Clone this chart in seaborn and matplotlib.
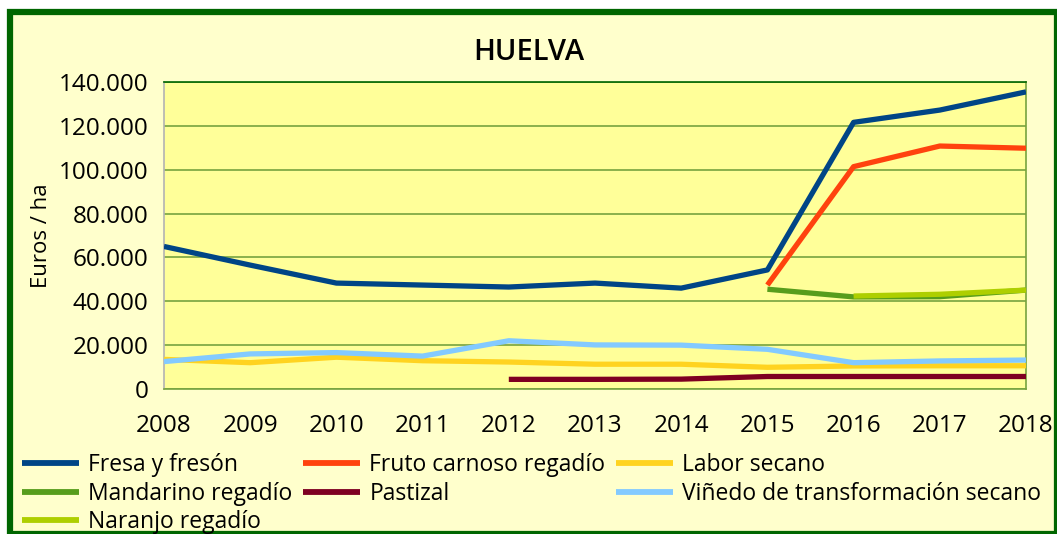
import numpy as np
import pandas as pd
import matplotlib
matplotlib.use("Agg")
import matplotlib.pyplot as plt
from matplotlib.patches import Rectangle
from matplotlib.lines import Line2D
import matplotlib.ticker as mticker
import seaborn as sns

years = [2008, 2009, 2010, 2011, 2012, 2013, 2014, 2015, 2016, 2017, 2018]
nan = np.nan
fresa = [65000, 56500, 48300, 47400, 46500, 48300, 46000, 54300, 121600, 127200, 135500]
fruto = [nan, nan, nan, nan, nan, nan, nan, 47400, 101400, 110800, 109800]
labor = [13500, 12000, 14500, 12900, 12300, 11300, 11300, 9900, 10500, 10600, 10600]
mandarino = [nan, nan, nan, nan, nan, nan, nan, 45500, 42000, 42100, 45100]
pastizal = [nan, nan, nan, nan, 4400, 4400, 4500, 5700, 5700, 5700, 5700]
vinedo = [12500, 16000, 16600, 15000, 22000, 20100, 20000, 18100, 12000, 12800, 13200]
naranjo = [nan, nan, nan, nan, nan, nan, nan, nan, 42400, 43200, 45100]

series_names = ["Fresa y fresón", "Fruto carnoso regadío", "Labor secano",
                "Mandarino regadío", "Pastizal", "Viñedo de transformación secano",
                "Naranjo regadío"]
series_values = [fresa, fruto, labor, mandarino, pastizal, vinedo, naranjo]
colors = ["#004586", "#FF420E", "#FFD320", "#579D1C", "#7E0021", "#83CAFF", "#AECF00"]

sns.set_theme(style="white")
plt.rcParams["font.family"] = ["Open Sans", "DejaVu Sans"]
plt.rcParams["text.color"] = "black"

fig = plt.figure(figsize=(10.57, 5.34), dpi=100)
fig.patch.set_facecolor("white")
bg = Rectangle((10 / 1057, 0), 1 - 10 / 1057, 1 - 12 / 534,
               transform=fig.transFigure, facecolor="#FFFFCC",
               edgecolor="#006600", linewidth=4.5, zorder=-10)
fig.patches.append(bg)

ax = fig.add_axes([164 / 1057, 1 - 389 / 534, (1026 - 164) / 1057, (389 - 82) / 534])
ax.set_zorder(5)
ax.set_facecolor("#FFFF99")

rows = []
for name, vals in zip(series_names, series_values):
    for y, v in zip(years, vals):
        rows.append({"year": y, "value": v, "serie": name})
df = pd.DataFrame(rows).dropna()

for name, col in zip(series_names, colors):
    sub = df[df["serie"] == name]
    sns.lineplot(data=sub, x="year", y="value", ax=ax, color=col, linewidth=3.8,
                 legend=False, solid_capstyle="butt", zorder=3)

ax.set_xlim(2008, 2018)
ax.set_ylim(0, 140000)
ax.set_xticks(years)
ax.set_yticks(np.arange(0, 140001, 20000))
ax.yaxis.set_major_formatter(mticker.FuncFormatter(lambda v, p: f"{int(v):,}".replace(",", ".")))
ax.grid(axis="y", color="#77A33F", linewidth=1.2, zorder=1)
ax.grid(axis="x", visible=False)
ax.tick_params(axis="both", which="major", labelsize=17.5, colors="#B3B3B3",
               labelcolor="black", length=8, width=1.2, direction="out")
ax.tick_params(axis="x", pad=10)
ax.tick_params(axis="y", pad=3)
ax.spines["top"].set_color("#006600")
ax.spines["right"].set_color("#77A33F")
ax.spines["left"].set_color("#B3B3B3")
ax.spines["bottom"].set_color("#77A33F")
for s in ax.spines.values():
    s.set_linewidth(1.2)
ax.set_xlabel("")
ax.set_ylabel("Euros / ha", fontsize=16, color="black")
ax.yaxis.set_label_coords(-0.13, 0.5)

fig.text(0.5, 1 - 53 / 534, "HUELVA", ha="center", va="center", fontsize=21,
         fontweight="semibold", color="black")

order = [0, 3, 6, 1, 4, 2, 5]
handles = [Line2D([0], [0], color=colors[i], linewidth=4.2, solid_capstyle="butt") for i in order]
labels = [series_names[i] for i in order]
fig.legend(handles, labels, loc="upper left", bbox_to_anchor=(22 / 1057, 1 - 453 / 534),
           ncol=3, frameon=False, fontsize=16.5, handlelength=2.5, handletextpad=0.4,
           columnspacing=0.45, labelspacing=0.2, borderaxespad=0, borderpad=0,
           labelcolor="black")

fig.savefig("out.png", dpi=100, facecolor=fig.get_facecolor())
